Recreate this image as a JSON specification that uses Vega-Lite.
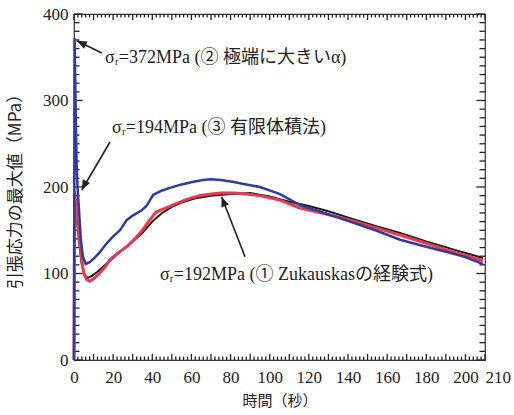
{
  "$schema": "https://vega.github.io/schema/vega-lite/v6.json",
  "width": 411,
  "height": 346,
  "autosize": {"type": "none"},
  "padding": {"left": 74, "top": 14, "right": 29, "bottom": 55},
  "background": "white",
  "config": {
    "view": {"stroke": "#333", "strokeWidth": 1.2},
    "axis": {"grid": false, "domain": false, "ticks": false, "labelColor": "#222", "titleColor": "#222"}
  },
  "datasets": {
    "xticks": [
      {"v": 0}, {"v": 2}, {"v": 4}, {"v": 6}, {"v": 8}, {"v": 10}, {"v": 12}, {"v": 14}, {"v": 16}, {"v": 18},
      {"v": 20}, {"v": 22}, {"v": 24}, {"v": 26}, {"v": 28}, {"v": 30}, {"v": 32}, {"v": 34}, {"v": 36}, {"v": 38},
      {"v": 40}, {"v": 42}, {"v": 44}, {"v": 46}, {"v": 48}, {"v": 50}, {"v": 52}, {"v": 54}, {"v": 56}, {"v": 58},
      {"v": 60}, {"v": 62}, {"v": 64}, {"v": 66}, {"v": 68}, {"v": 70}, {"v": 72}, {"v": 74}, {"v": 76}, {"v": 78},
      {"v": 80}, {"v": 82}, {"v": 84}, {"v": 86}, {"v": 88}, {"v": 90}, {"v": 92}, {"v": 94}, {"v": 96}, {"v": 98},
      {"v": 100}, {"v": 102}, {"v": 104}, {"v": 106}, {"v": 108}, {"v": 110}, {"v": 112}, {"v": 114}, {"v": 116}, {"v": 118},
      {"v": 120}, {"v": 122}, {"v": 124}, {"v": 126}, {"v": 128}, {"v": 130}, {"v": 132}, {"v": 134}, {"v": 136}, {"v": 138},
      {"v": 140}, {"v": 142}, {"v": 144}, {"v": 146}, {"v": 148}, {"v": 150}, {"v": 152}, {"v": 154}, {"v": 156}, {"v": 158},
      {"v": 160}, {"v": 162}, {"v": 164}, {"v": 166}, {"v": 168}, {"v": 170}, {"v": 172}, {"v": 174}, {"v": 176}, {"v": 178},
      {"v": 180}, {"v": 182}, {"v": 184}, {"v": 186}, {"v": 188}, {"v": 190}, {"v": 192}, {"v": 194}, {"v": 196}, {"v": 198},
      {"v": 200}, {"v": 202}, {"v": 204}, {"v": 206}, {"v": 208}, {"v": 210}
    ],
    "yticks": [
      {"v": 0}, {"v": 10}, {"v": 20}, {"v": 30}, {"v": 40}, {"v": 50}, {"v": 60}, {"v": 70}, {"v": 80}, {"v": 90},
      {"v": 100}, {"v": 110}, {"v": 120}, {"v": 130}, {"v": 140}, {"v": 150}, {"v": 160}, {"v": 170}, {"v": 180}, {"v": 190},
      {"v": 200}, {"v": 210}, {"v": 220}, {"v": 230}, {"v": 240}, {"v": 250}, {"v": 260}, {"v": 270}, {"v": 280}, {"v": 290},
      {"v": 300}, {"v": 310}, {"v": 320}, {"v": 330}, {"v": 340}, {"v": 350}, {"v": 360}, {"v": 370}, {"v": 380}, {"v": 390},
      {"v": 400}
    ],
    "curves": [
      {"s": "black", "x": 0, "y": 0}, {"s": "black", "x": 0.3, "y": 194}, {"s": "black", "x": 1, "y": 175}, {"s": "black", "x": 2, "y": 150},
      {"s": "black", "x": 3, "y": 128}, {"s": "black", "x": 4, "y": 110}, {"s": "black", "x": 5.5, "y": 98}, {"s": "black", "x": 7, "y": 95},
      {"s": "black", "x": 9, "y": 97}, {"s": "black", "x": 12, "y": 102}, {"s": "black", "x": 16, "y": 110}, {"s": "black", "x": 20, "y": 118},
      {"s": "black", "x": 25, "y": 128}, {"s": "black", "x": 30, "y": 137}, {"s": "black", "x": 35, "y": 147}, {"s": "black", "x": 40, "y": 160},
      {"s": "black", "x": 45, "y": 170}, {"s": "black", "x": 50, "y": 177}, {"s": "black", "x": 55, "y": 182}, {"s": "black", "x": 62, "y": 187},
      {"s": "black", "x": 70, "y": 190}, {"s": "black", "x": 80, "y": 192}, {"s": "black", "x": 90, "y": 193}, {"s": "black", "x": 100, "y": 189},
      {"s": "black", "x": 110, "y": 183}, {"s": "black", "x": 120, "y": 178}, {"s": "black", "x": 130, "y": 172}, {"s": "black", "x": 141, "y": 164},
      {"s": "black", "x": 154, "y": 155}, {"s": "black", "x": 166.6, "y": 147}, {"s": "black", "x": 180, "y": 137}, {"s": "black", "x": 195, "y": 127},
      {"s": "black", "x": 209, "y": 118},
      {"s": "red", "x": 0, "y": 0}, {"s": "red", "x": 0.3, "y": 195}, {"s": "red", "x": 1, "y": 180}, {"s": "red", "x": 2, "y": 158},
      {"s": "red", "x": 3, "y": 135}, {"s": "red", "x": 4, "y": 115}, {"s": "red", "x": 5, "y": 100}, {"s": "red", "x": 6.5, "y": 93},
      {"s": "red", "x": 8, "y": 91}, {"s": "red", "x": 10, "y": 94}, {"s": "red", "x": 13, "y": 100}, {"s": "red", "x": 16, "y": 108},
      {"s": "red", "x": 18.4, "y": 116}, {"s": "red", "x": 22, "y": 123}, {"s": "red", "x": 27, "y": 131}, {"s": "red", "x": 31, "y": 140},
      {"s": "red", "x": 35, "y": 150}, {"s": "red", "x": 38, "y": 160}, {"s": "red", "x": 42, "y": 171}, {"s": "red", "x": 47, "y": 176},
      {"s": "red", "x": 52.5, "y": 181}, {"s": "red", "x": 58, "y": 186}, {"s": "red", "x": 64, "y": 190}, {"s": "red", "x": 70, "y": 192},
      {"s": "red", "x": 75, "y": 193}, {"s": "red", "x": 82, "y": 193}, {"s": "red", "x": 88, "y": 192}, {"s": "red", "x": 95, "y": 190},
      {"s": "red", "x": 105, "y": 185}, {"s": "red", "x": 115, "y": 176}, {"s": "red", "x": 128, "y": 169}, {"s": "red", "x": 141, "y": 162},
      {"s": "red", "x": 154, "y": 153}, {"s": "red", "x": 166.6, "y": 144.5}, {"s": "red", "x": 180, "y": 135}, {"s": "red", "x": 195, "y": 124},
      {"s": "red", "x": 209, "y": 115},
      {"s": "blue", "x": 0, "y": 0}, {"s": "blue", "x": 0.3, "y": 372}, {"s": "blue", "x": 0.8, "y": 300}, {"s": "blue", "x": 1.3, "y": 230},
      {"s": "blue", "x": 1.8, "y": 200}, {"s": "blue", "x": 2.5, "y": 175}, {"s": "blue", "x": 3.5, "y": 140}, {"s": "blue", "x": 4.5, "y": 120},
      {"s": "blue", "x": 6, "y": 111}, {"s": "blue", "x": 8, "y": 113}, {"s": "blue", "x": 10, "y": 117}, {"s": "blue", "x": 13, "y": 124},
      {"s": "blue", "x": 16, "y": 133}, {"s": "blue", "x": 20, "y": 143}, {"s": "blue", "x": 23.5, "y": 150}, {"s": "blue", "x": 27, "y": 162},
      {"s": "blue", "x": 30, "y": 167}, {"s": "blue", "x": 34.6, "y": 173}, {"s": "blue", "x": 37, "y": 178}, {"s": "blue", "x": 40.5, "y": 191},
      {"s": "blue", "x": 45, "y": 196}, {"s": "blue", "x": 49, "y": 199}, {"s": "blue", "x": 55, "y": 203}, {"s": "blue", "x": 61, "y": 206},
      {"s": "blue", "x": 66, "y": 208}, {"s": "blue", "x": 70, "y": 209}, {"s": "blue", "x": 75, "y": 208}, {"s": "blue", "x": 81, "y": 206},
      {"s": "blue", "x": 88, "y": 203}, {"s": "blue", "x": 95, "y": 200}, {"s": "blue", "x": 105, "y": 192}, {"s": "blue", "x": 115.5, "y": 179},
      {"s": "blue", "x": 128, "y": 170}, {"s": "blue", "x": 141, "y": 160}, {"s": "blue", "x": 154, "y": 150}, {"s": "blue", "x": 166.6, "y": 139},
      {"s": "blue", "x": 180, "y": 131}, {"s": "blue", "x": 192, "y": 124}, {"s": "blue", "x": 200, "y": 119}, {"s": "blue", "x": 209, "y": 111}
    ],
    "notes": [
      {"id": 1, "label": "σᵣ=372MPa (② 極端に大きいα)", "tx": 15.8, "ty": 349, "ax": 1.4, "ay": 369, "bx": 14.2, "by": 355},
      {"id": 2, "label": "σᵣ=194MPa (③ 有限体積法)", "tx": 19.4, "ty": 268, "ax": 4.0, "ay": 196.5, "bx": 18.4, "by": 252},
      {"id": 3, "label": "σᵣ=192MPa (① Zukauskasの経験式)", "tx": 43.9, "ty": 98, "ax": 75.4, "ay": 188.8, "bx": 87.4, "by": 119.4}
    ]
  },
  "layer": [
    {
      "data": {"name": "curves"},
      "transform": [{"filter": "datum.s === 'black'"}],
      "mark": {"type": "line", "color": "#1a1a1a", "strokeWidth": 2},
      "encoding": {
        "x": {"field": "x", "type": "quantitative", "scale": {"domain": [0, 210], "nice": false, "zero": false},
          "axis": {"orient": "bottom", "values": [0, 20, 40, 60, 80, 100, 120, 140, 160, 180, 200, 210],
            "labelPadding": 9, "labelFont": "Liberation Serif", "labelFontSize": 17, "labelFlush": false, "labelOverlap": false,
            "labelAlign": {"condition": {"test": "datum.value === 210", "value": "left"}, "value": "center"},
            "title": "時間（秒）", "titleFont": "Noto Sans CJK JP", "titleFontSize": 15, "titleFontWeight": "normal", "titlePadding": 8}},
        "y": {"field": "y", "type": "quantitative", "scale": {"domain": [0, 400], "nice": false},
          "axis": {"orient": "left", "values": [0, 100, 200, 300, 400],
            "labelPadding": 6, "labelFont": "Liberation Serif", "labelFontSize": 17, "labelFlush": false, "labelOverlap": false,
            "title": "引張応力の最大値（MPa）", "titleFont": "Noto Sans CJK JP", "titleFontSize": 17, "titleFontWeight": "normal", "titlePadding": 18}}
      }
    },
    {
      "data": {"name": "xticks"},
      "transform": [{"filter": "datum.v % 10 !== 0"}],
      "mark": {"type": "rule", "color": "#222", "strokeWidth": 1.3},
      "encoding": {"x": {"field": "v", "type": "quantitative", "axis": null}, "y": {"datum": 0, "type": "quantitative", "axis": null}, "y2": {"datum": 4}}
    },
    {
      "data": {"name": "xticks"},
      "transform": [{"filter": "datum.v % 10 === 0"}],
      "mark": {"type": "rule", "color": "#222", "strokeWidth": 1.3},
      "encoding": {"x": {"field": "v", "type": "quantitative", "axis": null}, "y": {"datum": 0, "type": "quantitative", "axis": null}, "y2": {"datum": 7}}
    },
    {
      "data": {"name": "xticks"},
      "transform": [{"filter": "datum.v % 10 !== 0"}],
      "mark": {"type": "rule", "color": "#222", "strokeWidth": 1.3},
      "encoding": {"x": {"field": "v", "type": "quantitative", "axis": null}, "y": {"datum": 400, "type": "quantitative", "axis": null}, "y2": {"datum": 396}}
    },
    {
      "data": {"name": "xticks"},
      "transform": [{"filter": "datum.v % 10 === 0"}],
      "mark": {"type": "rule", "color": "#222", "strokeWidth": 1.3},
      "encoding": {"x": {"field": "v", "type": "quantitative", "axis": null}, "y": {"datum": 400, "type": "quantitative", "axis": null}, "y2": {"datum": 393}}
    },
    {
      "data": {"name": "yticks"},
      "transform": [{"filter": "datum.v % 100 !== 0"}],
      "mark": {"type": "rule", "color": "#222", "strokeWidth": 1.3},
      "encoding": {"y": {"field": "v", "type": "quantitative", "axis": null}, "x": {"datum": 0, "type": "quantitative", "axis": null}, "x2": {"datum": 2.8}}
    },
    {
      "data": {"name": "yticks"},
      "transform": [{"filter": "datum.v % 100 === 0"}],
      "mark": {"type": "rule", "color": "#222", "strokeWidth": 1.3},
      "encoding": {"y": {"field": "v", "type": "quantitative", "axis": null}, "x": {"datum": 0, "type": "quantitative", "axis": null}, "x2": {"datum": 4.4}}
    },
    {
      "data": {"name": "yticks"},
      "transform": [{"filter": "datum.v % 100 !== 0"}],
      "mark": {"type": "rule", "color": "#222", "strokeWidth": 1.3},
      "encoding": {"y": {"field": "v", "type": "quantitative", "axis": null}, "x": {"datum": 210, "type": "quantitative", "axis": null}, "x2": {"datum": 207.2}}
    },
    {
      "data": {"name": "yticks"},
      "transform": [{"filter": "datum.v % 100 === 0"}],
      "mark": {"type": "rule", "color": "#222", "strokeWidth": 1.3},
      "encoding": {"y": {"field": "v", "type": "quantitative", "axis": null}, "x": {"datum": 210, "type": "quantitative", "axis": null}, "x2": {"datum": 205.6}}
    },
    {
      "data": {"name": "curves"},
      "transform": [{"filter": "datum.s === 'red'"}],
      "mark": {"type": "line", "color": "#e63a52", "strokeWidth": 3},
      "encoding": {
        "x": {"field": "x", "type": "quantitative", "axis": null},
        "y": {"field": "y", "type": "quantitative", "axis": null}
      }
    },
    {
      "data": {"name": "curves"},
      "transform": [{"filter": "datum.s === 'blue'"}],
      "mark": {"type": "line", "color": "#2e3c9e", "strokeWidth": 2.5},
      "encoding": {
        "x": {"field": "x", "type": "quantitative", "axis": null},
        "y": {"field": "y", "type": "quantitative", "axis": null}
      }
    },
    {
      "data": {"name": "notes"},
      "mark": {"type": "rule", "color": "#222", "strokeWidth": 1.6},
      "encoding": {
        "x": {"field": "ax", "type": "quantitative", "axis": null},
        "y": {"field": "ay", "type": "quantitative", "axis": null},
        "x2": {"field": "bx"},
        "y2": {"field": "by"}
      }
    },
    {
      "data": {"name": "notes"},
      "mark": {"type": "text", "align": "left", "baseline": "middle", "font": "Liberation Serif, Noto Sans CJK JP", "fontSize": 18, "color": "#222"},
      "encoding": {
        "x": {"field": "tx", "type": "quantitative", "axis": null},
        "y": {"field": "ty", "type": "quantitative", "axis": null},
        "text": {"field": "label"}
      }
    },
    {
      "data": {"name": "notes"},
      "transform": [{"filter": "datum.id === 1"}],
      "mark": {"type": "point", "shape": "M0,0L-0.8,2L0.8,2Z", "filled": true, "color": "#222", "opacity": 1, "size": 100, "angle": 296},
      "encoding": {
        "x": {"field": "ax", "type": "quantitative", "axis": null},
        "y": {"field": "ay", "type": "quantitative", "axis": null}
      }
    },
    {
      "data": {"name": "notes"},
      "transform": [{"filter": "datum.id === 2"}],
      "mark": {"type": "point", "shape": "M0,0L-0.8,2L0.8,2Z", "filled": true, "color": "#222", "opacity": 1, "size": 100, "angle": 207},
      "encoding": {
        "x": {"field": "ax", "type": "quantitative", "axis": null},
        "y": {"field": "ay", "type": "quantitative", "axis": null}
      }
    },
    {
      "data": {"name": "notes"},
      "transform": [{"filter": "datum.id === 3"}],
      "mark": {"type": "point", "shape": "M0,0L-0.8,2L0.8,2Z", "filled": true, "color": "#222", "opacity": 1, "size": 100, "angle": 339},
      "encoding": {
        "x": {"field": "ax", "type": "quantitative", "axis": null},
        "y": {"field": "ay", "type": "quantitative", "axis": null}
      }
    }
  ],
  "resolve": {"axis": {"x": "independent", "y": "independent"}}
}
